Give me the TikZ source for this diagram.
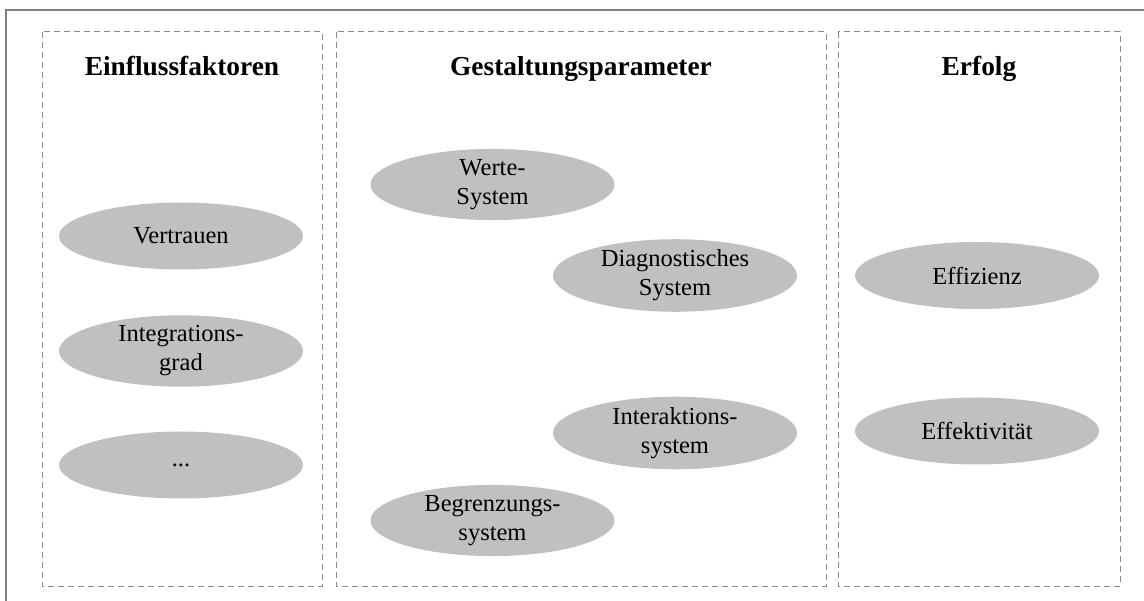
\documentclass[tikz,border=0pt]{standalone}
\usepackage{fontspec}
\setmainfont{Liberation Serif}
\usetikzlibrary{shapes.geometric}
\definecolor{framegray}{HTML}{808080}
\definecolor{dashgray}{HTML}{8A8A8A}
\definecolor{ovalgray}{HTML}{C0C0C0}
\tikzset{
  colbox/.style={draw=dashgray, line width=1pt, dash pattern=on 6pt off 4pt},
  coltitle/.style={anchor=base, inner sep=0pt, font=\fontsize{27.4}{32}\selectfont\bfseries},
  factor/.style={ellipse, fill=ovalgray, draw=none, inner sep=0pt,
    minimum width=244pt, minimum height=67pt, align=center,
    font=\fontsize{24.5}{29}\selectfont},
}
\begin{document}
\begin{tikzpicture}[x=1pt, y=-1pt]
  \useasboundingbox (0,0) rectangle (1144,601);
  % outer frame (top and left edges)
  \draw[framegray, line width=1.5pt] (6,601) -- (6,10) -- (1144,10);

  % three columns
  \draw[colbox] (42,32) rectangle (322,586);
  \draw[colbox] (336,32) rectangle (826,586);
  \draw[colbox] (838,32) rectangle (1120,586);

  \node[coltitle] (t1) at (182,76) {Einflussfaktoren};
  \node[coltitle] (t2) at (581,76) {Gestaltungsparameter};
  \node[coltitle] (t3) at (979,76) {Erfolg};

  % influencing factors
  \node[factor] (vertrauen) at (181,236) {Vertrauen};
  \node[factor] (integration) at (181,351) {Integrations-\\grad};
  \node[factor] (weitere) at (181,465) {...};

  % design parameters
  \node[factor] (werte) at (492.5,184.5) {Werte-\\System};
  \node[factor] (diagnose) at (675,275.5) {Diagnostisches\\System};
  \node[factor] (interaktion) at (675,433) {Interaktions-\\system};
  \node[factor] (grenzen) at (492.5,520.5) {Begrenzungs-\\system};

  % success
  \node[factor] (effizienz) at (977,275.5) {Effizienz};
  \node[factor] (effektiv) at (977,431) {Effektivität};
\end{tikzpicture}
\end{document}
